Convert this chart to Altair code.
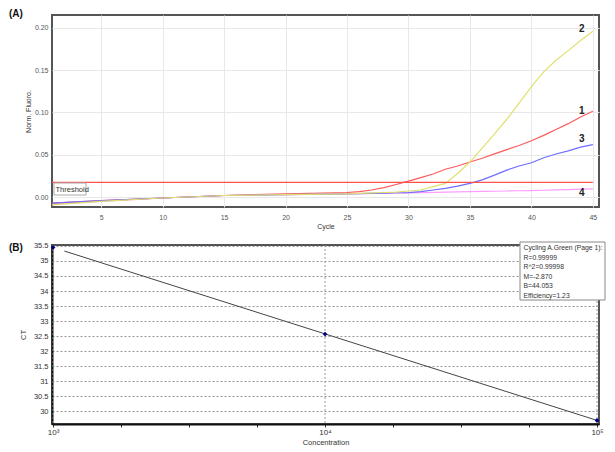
import altair as alt
import pandas as pd

# ---------------- Panel A data: amplification curves ----------------
cycles = [1, 5, 10, 15, 20, 25, 26, 27, 28, 29, 30, 31, 32, 33, 34, 35,
          36, 37, 38, 39, 40, 41, 42, 43, 44, 45]
curve_1 = [-0.007, -0.004, -0.001, 0.002, 0.004, 0.0055, 0.0066, 0.0085, 0.0112, 0.015,
           0.019, 0.023, 0.0273, 0.033, 0.0368, 0.0415, 0.046, 0.0512, 0.0562, 0.061,
           0.0667, 0.073, 0.080, 0.0868, 0.0946, 0.1015]
curve_2 = [-0.009, -0.005, -0.001, 0.002, 0.003, 0.004, 0.0045, 0.005, 0.0055, 0.006,
           0.0073, 0.0085, 0.0124, 0.0163, 0.0279, 0.0415, 0.058, 0.0748, 0.092, 0.111,
           0.1306, 0.148, 0.1616, 0.173, 0.185, 0.196]
curve_3 = [-0.007, -0.004, -0.001, 0.002, 0.003, 0.004, 0.0043, 0.0046, 0.0049, 0.0052,
           0.0054, 0.0065, 0.0085, 0.0105, 0.013, 0.0163, 0.0205, 0.026, 0.032, 0.0368,
           0.0407, 0.0466, 0.051, 0.0547, 0.059, 0.062]
curve_4 = [-0.008, -0.005, -0.001, 0.002, 0.003, 0.004, 0.0042, 0.0044, 0.0046, 0.0048,
           0.005, 0.0053, 0.0056, 0.0059, 0.0062, 0.0066, 0.0068, 0.007, 0.0073, 0.0076,
           0.0078, 0.0082, 0.0086, 0.009, 0.0094, 0.0097]
series_names = ["4", "1", "3", "2"]
series_values = [curve_4, curve_1, curve_3, curve_2]
series_colors = ["#ff9cff", "#ff5a5a", "#6e6eff", "#e0e070"]
threshold = 0.0174
label_names = ["2", "1", "3", "4"]
label_cycles = [44.1, 44.1, 44.1, 44.1]
label_values = [0.198, 0.102, 0.0686, 0.0047]
x_ticks_a = [5, 10, 15, 20, 25, 30, 35, 40, 45]
y_ticks_a = [0.0, 0.05, 0.10, 0.15, 0.20]

# ---------------- Panel B data: standard curve ----------------
concentration = [1000, 10000, 100000]
ct_values = [35.45, 32.57, 29.70]
fit_conc = [1100, 100000]
fit_ct = [35.33, 29.70]
stats_lines = ["Cycling A.Green (Page 1):", "R=0.99999", "R^2=0.99998",
               "M=-2.870", "B=44.053", "Efficiency=1.23"]
y_ticks_b = [30, 30.5, 31, 31.5, 32, 32.5, 33, 33.5, 34, 34.5, 35, 35.5]
x_ticks_b = [10 ** (3 + i / 4) for i in range(9)]

FONT = "Liberation Sans"
HA = 192
HB = 179

rows = []
for name, vals in zip(series_names, series_values):
    for c, v in zip(cycles, vals):
        rows.append({"cycle": c, "fluoro": v, "series": name})
df_a = pd.DataFrame(rows)
df_lab = pd.DataFrame({"cycle": label_cycles, "fluoro": label_values, "name": label_names})
df_thr = pd.DataFrame({"cycle": [1], "cycle2": [45], "fluoro": [threshold]})
one = pd.DataFrame({"a": [0]})

xA = alt.X("cycle:Q", scale=alt.Scale(domain=[1, 45.5], nice=False, zero=False),
           axis=alt.Axis(values=x_ticks_a, title="Cycle", grid=True, gridColor="#e8e8e8",
                         tickSize=0, domain=False, labelFontSize=7, labelColor="#555",
                         titleFontSize=7, titleFontWeight="normal", titleColor="#333",
                         labelPadding=6, titlePadding=2, labelFont=FONT, titleFont=FONT))
yA = alt.Y("fluoro:Q", scale=alt.Scale(domain=[-0.0116, 0.2151], nice=False, zero=False),
           axis=alt.Axis(values=y_ticks_a, format=".2f", title="Norm. Fluoro.", grid=True,
                         gridColor="#e8e8e8", tickSize=0, domain=False, labelFontSize=7,
                         labelColor="#555", titleFontSize=7, titleFontWeight="normal",
                         titleColor="#333", labelPadding=4, titlePadding=3,
                         labelFont=FONT, titleFont=FONT))

lines_a = alt.Chart(df_a).mark_line(strokeWidth=1.2).encode(
    x=xA, y=yA,
    color=alt.Color("series:N", scale=alt.Scale(domain=series_names, range=series_colors), legend=None),
    detail="series:N",
    order=alt.Order("cycle:Q"),
)
thr = alt.Chart(df_thr).mark_rule(color="#ff5050", strokeWidth=1.3).encode(
    x="cycle:Q", x2="cycle2:Q", y="fluoro:Q")
labels_a = alt.Chart(df_lab).mark_text(fontSize=10, fontWeight="bold", font=FONT,
                                       align="center", baseline="middle", color="#222").encode(
    x="cycle:Q", y="fluoro:Q", text="name:N")
thr_box = alt.Chart(one).mark_rect(fill="white", stroke="#aaaaaa", strokeWidth=1).encode(
    x=alt.value(2), x2=alt.value(34), y=alt.value(HA - 24), y2=alt.value(HA - 12))
thr_txt = alt.Chart(one).mark_text(fontSize=7.5, font=FONT, align="left", baseline="middle",
                                   color="#333").encode(
    x=alt.value(3.5), y=alt.value(HA - 17.5), text=alt.value("Threshold"))
tag_a = alt.Chart(one).mark_text(fontSize=10, fontWeight="bold", font=FONT, align="left",
                                 baseline="top", color="#111").encode(
    x=alt.value(-43), y=alt.value(-6), text=alt.value("(A)"))

panel_a = alt.layer(lines_a, thr, labels_a, thr_box, thr_txt, tag_a).properties(
    width=547, height=HA)

# ---------------- Panel B ----------------
df_pts = pd.DataFrame({"conc": concentration, "ct": ct_values})
df_fit = pd.DataFrame({"conc": fit_conc, "ct": fit_ct})
df_vgrid = pd.DataFrame({"conc": concentration})

label_expr = ("datum.value > 999 && datum.value < 1001 ? '10\u00b3' : "
              "datum.value > 9999 && datum.value < 10001 ? '10\u2074' : "
              "datum.value > 99999 && datum.value < 100001 ? '10\u2075' : ''")
xB = alt.X("conc:Q", scale=alt.Scale(type="log", domain=[991, 101700], nice=False),
           axis=alt.Axis(values=x_ticks_b, labelExpr=label_expr, title="Concentration",
                         grid=False, tickSize=3, tickColor="#333", domainColor="#111",
                         domainWidth=2, labelFontSize=8, labelColor="#333",
                         titleFontSize=7.5, titleFontWeight="normal", titleColor="#333",
                         labelPadding=1, titlePadding=2, labelFont=FONT, titleFont=FONT,
                         labelFlush=False))
yB = alt.Y("ct:Q", scale=alt.Scale(domain=[29.58, 35.53], nice=False, zero=False),
           axis=alt.Axis(values=y_ticks_b, format=".1~f", title="CT", grid=True,
                         gridColor="#999", gridDash=[2, 2], tickSize=0, domainColor="#111",
                         domainWidth=2, labelFontSize=7.5, labelColor="#333",
                         titleFontSize=7.5, titleFontWeight="normal", titleColor="#333",
                         labelPadding=4, titlePadding=6, labelFont=FONT, titleFont=FONT))

vgrid = alt.Chart(df_vgrid).mark_rule(color="#999", strokeDash=[2, 2], strokeWidth=1).encode(x=xB)
fit = alt.Chart(df_fit).mark_line(color="#444", strokeWidth=1).encode(x=xB, y=yB)
pts = alt.Chart(df_pts).mark_point(shape="diamond", filled=True, size=22, color="#000080",
                                   opacity=1).encode(x=xB, y=yB)
stats_box = alt.Chart(one).mark_rect(fill="white", stroke="#888", strokeWidth=1).encode(
    x=alt.value(468), x2=alt.value(553), y=alt.value(-3), y2=alt.value(55))
stats_txt = alt.Chart(one).mark_text(fontSize=6.8, font=FONT, align="left", baseline="middle",
                                     color="#333", lineBreak="\n", lineHeight=9.6).encode(
    x=alt.value(471.5), y=alt.value(3), text=alt.value("\n".join(stats_lines)))
tag_b = alt.Chart(one).mark_text(fontSize=10, fontWeight="bold", font=FONT, align="left",
                                 baseline="middle", color="#111").encode(
    x=alt.value(-43), y=alt.value(3), text=alt.value("(B)"))

panel_b = alt.layer(vgrid, fit, pts, stats_box, stats_txt, tag_b).properties(
    width=547, height=HB)

chart = alt.vconcat(panel_a, panel_b, spacing=10).properties(
    padding={"left": 0, "top": 0, "right": 0, "bottom": 0}
).configure_view(stroke="#555", strokeWidth=2)

chart.save("out.html", embed_options={"renderer": "svg", "actions": False})
